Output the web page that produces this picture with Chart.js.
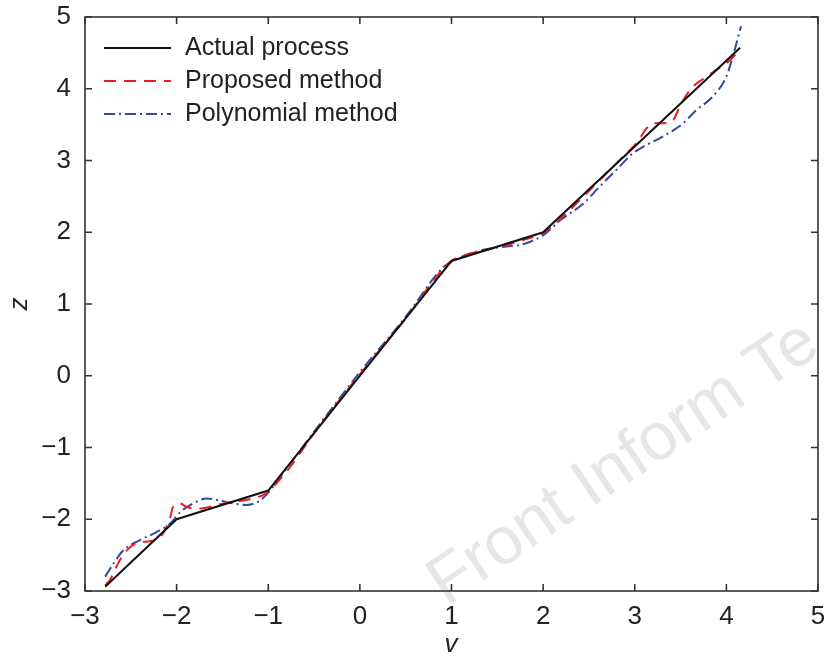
<!DOCTYPE html>
<html>
<head>
<meta charset="utf-8">
<script src="https://cdn.jsdelivr.net/npm/chart.js@4/dist/chart.umd.min.js"></script>
<style>
  html, body { margin: 0; padding: 0; background: #fff; }
  #wrap { width: 827px; height: 658px; }
</style>
</head>
<body>
<div id="wrap"><canvas id="chart" width="827" height="658"></canvas></div>
<script>
// Actual process (piecewise linear)
const actualV = [-2.78, -2, -1, 1, 2, 4.15];
const actualZ = [-2.94, -2, -1.6, 1.6, 2, 4.57];

// Proposed method
const proposedV = [-2.78, -2.73, -2.62, -2.51, -2.40, -2.26, -2.15, -2.07, -2.04, -1.96, -1.89, -1.75, -1.56, -1.39, -1.17, -1.02, -0.91, -0.76, -0.5, 0, 0.5, 0.9, 1.0, 1.2, 1.4, 1.6, 1.8, 2.0, 2.25, 2.40, 2.51, 2.62, 2.76, 2.91, 3.02, 3.13, 3.20, 3.27, 3.40, 3.51, 3.62, 3.75, 3.89, 4.04, 4.11];
const proposedZ = [-2.92, -2.85, -2.57, -2.39, -2.32, -2.30, -2.20, -1.97, -1.83, -1.78, -1.83, -1.85, -1.80, -1.76, -1.71, -1.64, -1.50, -1.27, -0.80, 0.02, 0.80, 1.48, 1.60, 1.70, 1.76, 1.82, 1.90, 1.99, 2.26, 2.45, 2.59, 2.73, 2.91, 3.10, 3.24, 3.45, 3.52, 3.52, 3.54, 3.80, 4.01, 4.14, 4.26, 4.40, 4.49];

// Polynomial method
const polyV = [-2.78, -2.69, -2.58, -2.40, -2.22, -2.07, -1.96, -1.82, -1.67, -1.53, -1.38, -1.24, -1.09, -0.98, -0.84, -0.5, 0, 0.5, 0.9, 1.0, 1.2, 1.4, 1.6, 1.8, 2.0, 2.2, 2.44, 2.62, 2.80, 2.98, 3.09, 3.27, 3.42, 3.53, 3.67, 3.85, 4.00, 4.07, 4.13, 4.16];
const polyZ = [-2.80, -2.62, -2.43, -2.29, -2.18, -2.06, -1.90, -1.78, -1.71, -1.74, -1.78, -1.80, -1.74, -1.60, -1.36, -0.78, 0.05, 0.82, 1.50, 1.59, 1.70, 1.77, 1.80, 1.84, 1.96, 2.18, 2.40, 2.64, 2.87, 3.10, 3.19, 3.31, 3.42, 3.52, 3.70, 3.89, 4.17, 4.45, 4.73, 4.87];

const xTicks = [-3, -2, -1, 0, 1, 2, 3, 4, 5];
const yTicks = [-3, -2, -1, 0, 1, 2, 3, 4, 5];
const seriesNames = ['Actual process', 'Proposed method', 'Polynomial method'];

const FONT = '"Liberation Sans", Arial, sans-serif';
const AXIS_COLOR = '#333';

function pts(xs, ys) {
  return xs.map((x, i) => ({ x: x, y: ys[i] }));
}
function fmt(v) {
  return v < 0 ? '\u2212' + Math.abs(v) : String(v);
}

// frame, inward ticks, legend, axis titles, watermark
const decor = {
  id: 'decor',
  beforeDraw(chart) {
    const ctx = chart.ctx;
    ctx.save();
    ctx.fillStyle = '#fff';
    ctx.fillRect(0, 0, chart.width, chart.height);
    // watermark
    ctx.translate(446, 606);
    ctx.rotate(-34 * Math.PI / 180);
    ctx.font = '67px ' + FONT;
    ctx.fillStyle = '#e6e6e6';
    ctx.textBaseline = 'alphabetic';
    ctx.fillText('Front Inform Te', 0, 0);
    ctx.restore();
  },
  afterDraw(chart) {
    const ctx = chart.ctx;
    const a = chart.chartArea;
    const xs = chart.scales.x, ys = chart.scales.y;
    ctx.save();
    ctx.strokeStyle = AXIS_COLOR;
    ctx.lineWidth = 1.6;
    ctx.strokeRect(a.left, a.top, a.right - a.left, a.bottom - a.top);
    const tl = 7;
    ctx.beginPath();
    xTicks.forEach(v => {
      const px = xs.getPixelForValue(v);
      ctx.moveTo(px, a.bottom); ctx.lineTo(px, a.bottom - tl);
      ctx.moveTo(px, a.top); ctx.lineTo(px, a.top + tl);
    });
    yTicks.forEach(v => {
      const py = ys.getPixelForValue(v);
      ctx.moveTo(a.left, py); ctx.lineTo(a.left + tl, py);
      ctx.moveTo(a.right, py); ctx.lineTo(a.right - tl, py);
    });
    ctx.stroke();

    // legend
    const ly = [48, 81, 114];
    chart.data.datasets.forEach((ds, i) => {
      ctx.beginPath();
      ctx.strokeStyle = ds.borderColor;
      ctx.lineWidth = ds.borderWidth;
      ctx.setLineDash(ds.borderDash || []);
      ctx.moveTo(104, ly[i]);
      ctx.lineTo(171, ly[i]);
      ctx.stroke();
      ctx.setLineDash([]);
      ctx.fillStyle = '#222';
      ctx.font = '25px ' + FONT;
      ctx.textBaseline = 'middle';
      ctx.textAlign = 'left';
      ctx.fillText(ds.label, 185, ly[i]);
    });

    // axis titles
    ctx.fillStyle = '#222';
    ctx.font = 'italic 26px ' + FONT;
    ctx.textAlign = 'center';
    ctx.textBaseline = 'middle';
    ctx.fillText('v', 451, 645);
    ctx.translate(20, (a.top + a.bottom) / 2);
    ctx.rotate(-Math.PI / 2);
    ctx.fillText('z', 0, 0);
    ctx.restore();
  }
};

new Chart(document.getElementById('chart'), {
  type: 'line',
  data: {
    datasets: [
      {
        label: seriesNames[0],
        data: pts(actualV, actualZ),
        borderColor: '#111',
        borderWidth: 2,
        tension: 0,
        pointRadius: 0
      },
      {
        label: seriesNames[1],
        data: pts(proposedV, proposedZ),
        borderColor: '#ec1c24',
        borderWidth: 2,
        borderDash: [12, 8],
        cubicInterpolationMode: 'monotone',
        pointRadius: 0
      },
      {
        label: seriesNames[2],
        data: pts(polyV, polyZ),
        borderColor: '#3548a0',
        borderWidth: 2,
        borderDash: [11, 4, 2, 4],
        cubicInterpolationMode: 'monotone',
        pointRadius: 0
      }
    ]
  },
  options: {
    responsive: false,
    animation: false,
    layout: { padding: { top: 17, right: 9, left: 0, bottom: 0 } },
    plugins: {
      legend: { display: false },
      tooltip: { enabled: false }
    },
    scales: {
      x: {
        type: 'linear',
        min: -3,
        max: 5,
        afterFit(s) { s.height = 67; s.paddingLeft = 0; s.paddingRight = 0; },
        afterBuildTicks(s) { s.ticks = xTicks.map(v => ({ value: v })); },
        grid: { display: false, drawTicks: false },
        border: { display: false },
        ticks: {
          padding: 10,
          color: '#222',
          font: { family: FONT, size: 26 },
          maxRotation: 0,
          callback: v => fmt(v)
        }
      },
      y: {
        type: 'linear',
        min: -3,
        max: 5,
        afterFit(s) { s.width = 85; s.paddingTop = 0; s.paddingBottom = 0; },
        afterBuildTicks(s) { s.ticks = yTicks.map(v => ({ value: v })); },
        grid: { display: false, drawTicks: false },
        border: { display: false },
        ticks: {
          padding: 14,
          color: '#222',
          font: { family: FONT, size: 26 },
          callback: v => fmt(v)
        }
      }
    }
  },
  plugins: [decor]
});
</script>
</body>
</html>
